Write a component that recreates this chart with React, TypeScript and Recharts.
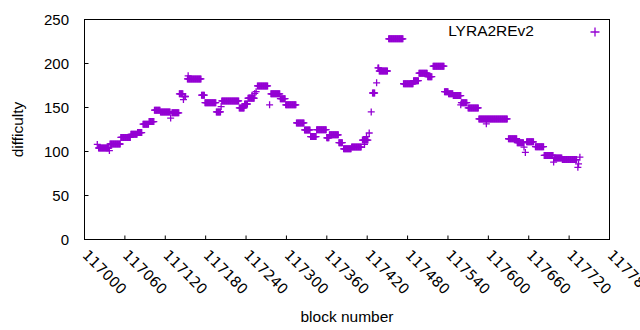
import React from 'react';
import { ScatterChart, Scatter, XAxis, YAxis } from 'recharts';

const BASE_BLOCK = 117000;
const seriesName = 'LYRA2REv2';
const seriesColor = '#9400d3';

// runs of blocks with the same difficulty: first block, last block (offsets from BASE_BLOCK), difficulty
const runStart = [
  19, 21, 37, 38, 54, 69, 79, 87, 96, 104, 113, 128, 130, 141, 147, 149, 153, 154, 174, 179,
  196, 203, 204, 230, 238, 243, 249, 253, 255, 257, 275, 277, 291, 299, 315, 327, 336, 345, 360, 364,
  378, 385, 397, 413, 416, 419, 423, 426, 428, 434, 436, 438, 452, 474, 489, 497, 510, 518, 535, 541,
  548, 559, 560, 570, 586, 597, 630, 643, 653, 655, 657, 670, 683, 697, 698, 710, 733, 734, 736,
];
const runEnd = [
  19, 36, 37, 53, 68, 78, 85, 95, 103, 112, 127, 128, 140, 146, 147, 150, 173, 154, 178, 195,
  202, 203, 229, 237, 242, 252, 249, 253, 255, 272, 275, 290, 298, 314, 326, 335, 344, 359, 363, 377,
  383, 396, 411, 421, 416, 419, 423, 426, 431, 434, 437, 450, 473, 488, 496, 509, 516, 534, 540, 547,
  559, 559, 568, 585, 628, 597, 642, 652, 653, 655, 667, 682, 696, 697, 709, 731, 733, 734, 736,
];
const runDifficulty = [
  108, 104, 101, 108.5, 116, 119.5, 121.5, 131, 134, 147, 145, 138, 144, 165.5, 159, 162.5, 182.5, 186, 164, 155.5,
  145, 151, 157.5, 149.5, 154, 160.5, 164, 166, 168, 174.5, 153, 165.5, 160, 153, 132.5, 124.5, 117, 124.8, 115.5, 119,
  110, 103, 105, 113, 108, 117, 121, 145, 166.5, 178, 195, 191.5, 228, 177, 180.5, 189, 185, 197, 168, 165.5,
  163.5, 153, 155.5, 149.5, 137, 131.5, 114.5, 110, 105, 99, 111, 105.5, 95.5, 88, 92.5, 90.8, 82, 86, 93.5,
];

const xTicks = [
  117000, 117060, 117120, 117180, 117240, 117300, 117360, 117420, 117480, 117540, 117600, 117660, 117720, 117780,
];
const yTicks = [0, 50, 100, 150, 200, 250];

const points: { block: number; difficulty: number }[] = [];
runStart.forEach((start, i) => {
  for (let b = start; b <= runEnd[i]; b++) {
    points.push({ block: BASE_BLOCK + b, difficulty: runDifficulty[i] });
  }
});
const anchorPoint = [{ block: xTicks[0], difficulty: yTicks[0] }];

const FONT = '"Liberation Sans", Arial, sans-serif';
const INK = '#000';

const Cross = (props: any) => {
  const { cx, cy } = props;
  if (cx == null || cy == null) return <g />;
  const r = 3.5;
  return (
    <path
      d={`M${cx - r},${cy}H${cx + r}M${cx},${cy - r}V${cy + r}`}
      stroke={seriesColor}
      strokeWidth={1.3}
      fill="none"
    />
  );
};

const NoShape = () => <g />;

// gnuplot-style ticks point into the plot area
const BottomTick = (props: any) => {
  const { x, y, payload } = props;
  const tx = x + 0.5;
  const ty = y + 13;
  return (
    <g>
      <rect x={x - 0.5} y={y - 4} width={1} height={4} fill={INK} />
      <text
        x={tx}
        y={ty}
        transform={`rotate(45 ${tx} ${ty})`}
        textAnchor="start"
        dominantBaseline="central"
        fontFamily='"DejaVu Sans", sans-serif'
        fontSize={14.5}
        fill={INK}
      >
        {payload.value}
      </text>
    </g>
  );
};

const TopTick = (props: any) => {
  const { x, y } = props;
  return <rect x={x - 0.5} y={y} width={1} height={4} fill={INK} />;
};

const LeftTick = (props: any) => {
  const { x, y, payload } = props;
  return (
    <g>
      <rect x={x} y={y - 0.5} width={4} height={1} fill={INK} />
      <text
        x={x - 15.5}
        y={y}
        textAnchor="end"
        dominantBaseline="central"
        fontFamily={FONT}
        fontSize={15}
        fill={INK}
      >
        {payload.value}
      </text>
    </g>
  );
};

const RightTick = (props: any) => {
  const { x, y } = props;
  return <rect x={x - 4} y={y - 0.5} width={4} height={1} fill={INK} />;
};

export default function App() {
  return (
    <div style={{ position: 'relative', width: 640, height: 330, background: '#fff' }}>
      <style>{'body{margin:0}'}</style>
      <ScatterChart
        width={640}
        height={330}
        margin={{ top: 19.5, right: 30.5, bottom: 0, left: 0 }}
      >
        <XAxis
          xAxisId="bottom"
          dataKey="block"
          type="number"
          domain={[117000, 117780]}
          ticks={xTicks}
          interval={0}
          height={90.5}
          tickSize={0}
          tickMargin={0}
          tickLine={false}
          tick={<BottomTick />}
          axisLine={false}
          label={{
            content: (p: any) => (
              <text
                x={p.viewBox.x + p.viewBox.width / 2}
                y={316}
                textAnchor="middle"
                dominantBaseline="central"
                fontFamily={FONT}
                fontSize={15.5}
                fill={INK}
              >
                block number
              </text>
            ),
          }}
        />
        <XAxis
          xAxisId="top"
          orientation="top"
          dataKey="block"
          type="number"
          domain={[117000, 117780]}
          ticks={xTicks}
          interval={0}
          height={0}
          tickSize={0}
          tickMargin={0}
          tickLine={false}
          tick={<TopTick />}
          axisLine={false}
        />
        <YAxis
          yAxisId="left"
          dataKey="difficulty"
          type="number"
          domain={[0, 250]}
          ticks={yTicks}
          interval={0}
          width={84.5}
          tickSize={0}
          tickMargin={0}
          tickLine={false}
          tick={<LeftTick />}
          axisLine={false}
          label={{
            content: (p: any) => (
              <text
                x={17}
                y={p.viewBox.y + p.viewBox.height / 2}
                transform={`rotate(-90 17 ${p.viewBox.y + p.viewBox.height / 2})`}
                textAnchor="middle"
                dominantBaseline="central"
                fontFamily={FONT}
                fontSize={15.5}
                fill={INK}
              >
                difficulty
              </text>
            ),
          }}
        />
        <YAxis
          yAxisId="right"
          orientation="right"
          dataKey="difficulty"
          type="number"
          domain={[0, 250]}
          ticks={yTicks}
          interval={0}
          width={0}
          tickSize={0}
          tickMargin={0}
          tickLine={false}
          tick={<RightTick />}
          axisLine={false}
        />
        <Scatter
          name={seriesName}
          data={points}
          xAxisId="bottom"
          yAxisId="left"
          shape={<Cross />}
          isAnimationActive={false}
        />
        <Scatter
          data={anchorPoint}
          xAxisId="top"
          yAxisId="right"
          shape={<NoShape />}
          legendType="none"
          isAnimationActive={false}
        />
      </ScatterChart>
      {/* border box around the plot area */}
      <div
        style={{
          position: 'absolute',
          left: 84,
          top: 19,
          width: 526,
          height: 221,
          boxSizing: 'border-box',
          border: '1px solid #000',
          pointerEvents: 'none',
        }}
      />
      <div
        style={{
          position: 'absolute',
          top: 21,
          right: 106,
          fontFamily: FONT,
          fontSize: 15.5,
          lineHeight: '20px',
          color: INK,
          whiteSpace: 'nowrap',
        }}
      >
        {seriesName}
      </div>
      <svg style={{ position: 'absolute', left: 589, top: 26 }} width={12} height={12}>
        <path d="M1.5,6H10.5M6,1.5V10.5" stroke={seriesColor} strokeWidth={1.3} fill="none" />
      </svg>
    </div>
  );
}
